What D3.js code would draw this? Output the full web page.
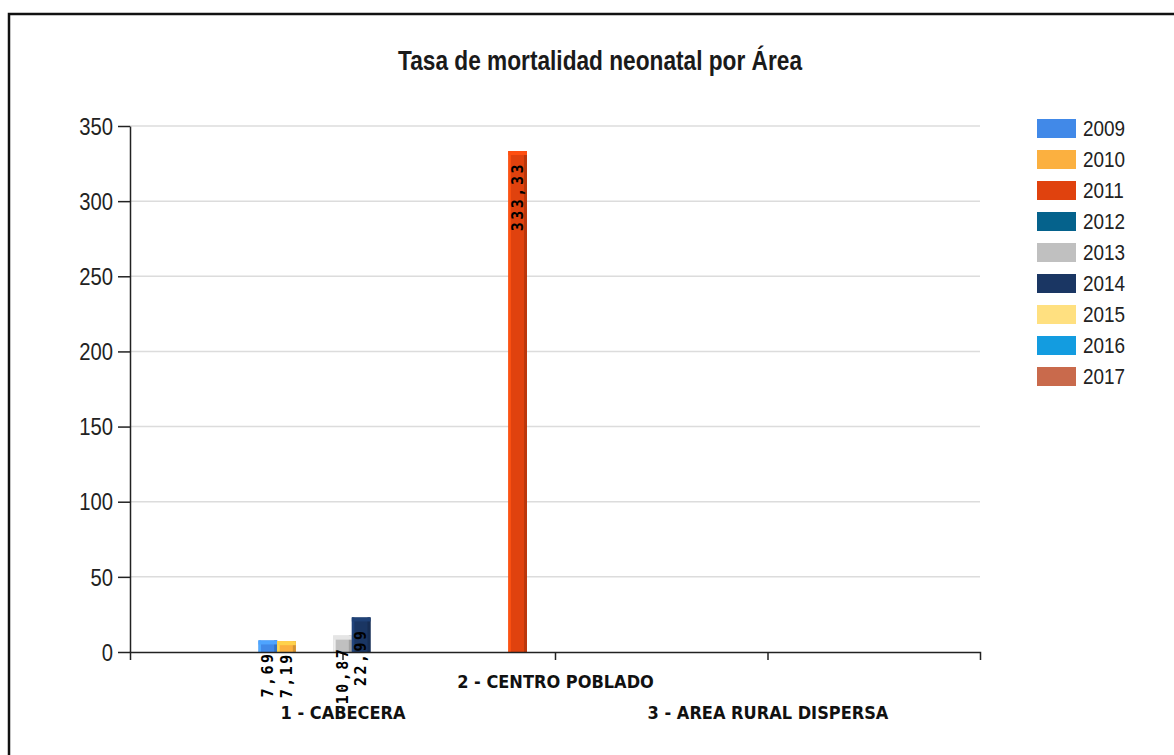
<!DOCTYPE html>
<html>
<head>
<meta charset="utf-8">
<script src="https://cdn.jsdelivr.net/npm/d3@7/dist/d3.min.js"></script>
<style>
  html, body { margin: 0; padding: 0; background: #fff; }
  svg { display: block; }
</style>
</head>
<body>
<svg id="chart" width="1174" height="755"></svg>
<script>
// Neonatal mortality rate by area, one bar per year
const areas = ["1 - CABECERA", "2 - CENTRO POBLADO", "3 - AREA RURAL DISPERSA"];
const years = ["2009", "2010", "2011", "2012", "2013", "2014", "2015", "2016", "2017"];
const colors = ["#4189e8", "#fbb040", "#e0420e", "#05628c", "#c0c0c0", "#1a3663", "#ffe080", "#139ce0", "#c96a4c"];
const cabecera = [7.69, 7.19, null, null, 10.87, 22.99, null, null, null];
const centroPoblado = [null, null, 333.33, null, null, null, null, null, null];
const areaRural = [null, null, null, null, null, null, null, null, null];
const yTicks = [0, 50, 100, 150, 200, 250, 300, 350];
const title = "Tasa de mortalidad neonatal por Área";

const seriesByArea = [cabecera, centroPoblado, areaRural];
const rows = [];
areas.forEach((a, i) => years.forEach((y, j) => {
  const v = seriesByArea[i][j];
  if (v != null) rows.push({ area: a, year: y, value: v, color: colors[j] });
}));

const svg = d3.select("#chart");
const plot = { left: 130, right: 980, top: 126, bottom: 652 };

// squeeze glyphs horizontally to a narrower face
function condense(sel, k) {
  sel.each(function () {
    const w = this.getComputedTextLength();
    this.setAttribute("textLength", w * k);
    this.setAttribute("lengthAdjust", "spacingAndGlyphs");
  });
}

// frame
svg.append("path")
  .attr("d", "M9,760 L9,14 L1180,14")
  .attr("fill", "none").attr("stroke", "#111").attr("stroke-width", 2.5);

const x0 = d3.scalePoint().domain(areas).range([plot.left, plot.right]).padding(1);
const x1 = d3.scaleBand().domain(years).range([-84, 84]);
const y = d3.scaleLinear().domain([0, 350]).range([plot.bottom, plot.top]);

// grid
svg.append("g").selectAll("line").data(yTicks.filter(t => t > 0)).join("line")
  .attr("x1", plot.left).attr("x2", plot.right)
  .attr("y1", d => y(d)).attr("y2", d => y(d))
  .attr("stroke", "#dcdcdc").attr("stroke-width", 1.5);

// title
svg.append("text")
  .attr("x", 600).attr("y", 70)
  .attr("text-anchor", "middle")
  .attr("font-family", "Liberation Sans, Arial, sans-serif")
  .attr("font-size", 28).attr("font-weight", "bold").attr("fill", "#1a1a1a")
  .text(title)
  .each(function () {
    this.setAttribute("textLength", 404);
    this.setAttribute("lengthAdjust", "spacingAndGlyphs");
  });

// bars with a bevelled look
const bars = svg.append("g").selectAll("g").data(rows).join("g")
  .attr("transform", d => `translate(${x0(d.area) + x1(d.year)},0)`);
const bw = x1.bandwidth();
bars.append("rect")
  .attr("x", 0).attr("y", d => y(d.value))
  .attr("width", bw).attr("height", d => y(0) - y(d.value))
  .attr("fill", d => d.color);
bars.append("rect")
  .attr("x", 0).attr("y", d => y(d.value))
  .attr("width", 2.5).attr("height", d => y(0) - y(d.value))
  .attr("fill", d => d3.color(d.color).brighter(0.6));
bars.append("rect")
  .attr("x", bw - 3).attr("y", d => y(d.value))
  .attr("width", 3).attr("height", d => y(0) - y(d.value))
  .attr("fill", d => d3.color(d.color).darker(0.5));
bars.append("rect")
  .attr("x", 0).attr("y", d => y(d.value))
  .attr("width", bw).attr("height", d => Math.min(4, y(0) - y(d.value)))
  .attr("fill", d => d3.color(d.color).brighter(0.5));

// axes
const yAxis = svg.append("g")
  .attr("transform", `translate(${plot.left},0)`)
  .call(d3.axisLeft(y).tickValues(yTicks).tickSize(12).tickSizeOuter(0).tickPadding(5));
yAxis.select(".domain").attr("stroke", "#222").attr("stroke-width", 1.5);
yAxis.selectAll(".tick line").attr("stroke", "#222").attr("stroke-width", 1.5);
yAxis.selectAll("text")
  .attr("font-family", "Liberation Sans, Arial, sans-serif")
  .attr("font-size", 23).attr("fill", "#222").attr("dy", "0.36em")
  .call(condense, 0.88);

const xAxis = svg.append("g")
  .attr("transform", `translate(0,${plot.bottom})`)
  .call(d3.axisBottom(x0).tickSize(8).tickSizeOuter(8).tickPadding(0));
xAxis.select(".domain").attr("stroke", "#222").attr("stroke-width", 1.5);
xAxis.selectAll(".tick line").attr("stroke", "#222").attr("stroke-width", 1.5);
xAxis.selectAll("text")
  .attr("font-family", "DejaVu Sans Condensed, DejaVu Sans, sans-serif")
  .attr("font-weight", "bold").attr("font-size", 18).attr("fill", "#111")
  .attr("y", (d, i) => i % 2 === 1 ? 36 : 67).attr("dy", 0);

// value labels, rotated, ending just below each bar top
svg.append("g").selectAll("text").data(rows).join("text")
  .attr("transform", d => `translate(${x0(d.area) + x1(d.year) + bw / 2},${y(d.value) + 11}) rotate(-90)`)
  .attr("text-anchor", "end")
  .attr("dy", "0.35em")
  .attr("font-family", "DejaVu Sans Mono, monospace")
  .attr("font-weight", "bold").attr("font-size", 15)
  .attr("letter-spacing", 2.5)
  .attr("fill", "#000")
  .text(d => d3.format(".2f")(d.value).replace(".", ","));

// legend
const legend = svg.append("g").selectAll("g").data(years).join("g")
  .attr("transform", (d, i) => `translate(1037,${119 + i * 31})`);
legend.append("rect")
  .attr("width", 39).attr("height", 19)
  .attr("fill", (d, i) => colors[i]);
legend.append("text")
  .attr("x", 46).attr("y", 17)
  .attr("font-family", "Liberation Sans, Arial, sans-serif")
  .attr("font-size", 22).attr("fill", "#222")
  .text(d => d)
  .call(condense, 0.86);
</script>
</body>
</html>
